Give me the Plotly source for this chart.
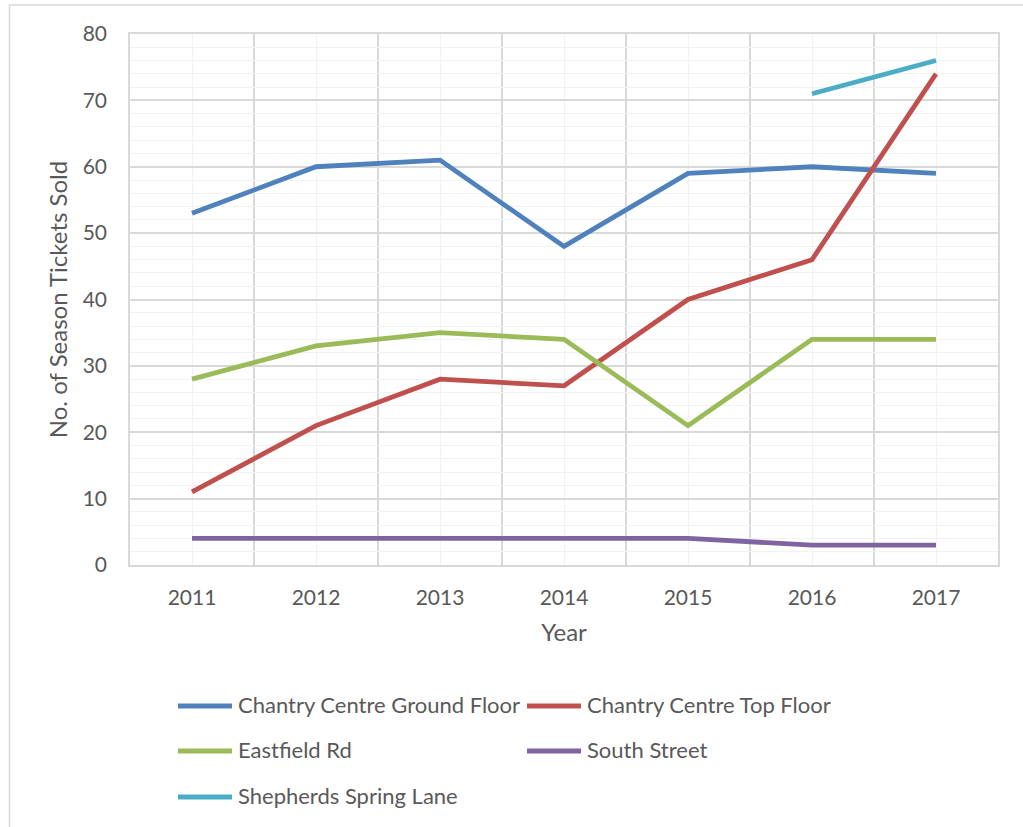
import plotly.graph_objects as go

# Season ticket sales per car park, by year
years = ["2011", "2012", "2013", "2014", "2015", "2016", "2017"]
ground_floor = [53, 60, 61, 48, 59, 60, 59]
top_floor = [11, 21, 28, 27, 40, 46, 74]
eastfield_rd = [28, 33, 35, 34, 21, 34, 34]
south_street = [4, 4, 4, 4, 4, 3, 3]
shepherds_spring = [None, None, None, None, None, 71, 76]

series_names = ["Chantry Centre Ground Floor", "Chantry Centre Top Floor",
                "Eastfield Rd", "South Street", "Shepherds Spring Lane"]
series_values = [ground_floor, top_floor, eastfield_rd, south_street, shepherds_spring]
series_colors = ["#4F81BD", "#C0504D", "#9BBB59", "#8064A2", "#4BACC6"]

FONT = "Lato"
TEXT = "#595959"
GRID = "#D9D9D9"
GRID_LIGHT = "#F2F2F2"

W, H = 1023, 827
ML, MR, MT, MB = 130, 25, 34, 262
PW = W - ML - MR
PH = H - MT - MB


def py(pix):
    # pixel row -> paper y
    return (H - MB - pix) / PH


def px(pix):
    # pixel column -> paper x
    return (pix - ML) / PW


fig = go.Figure()
xpos = list(range(len(years)))
for name, vals, color in zip(series_names, series_values, series_colors):
    fig.add_trace(go.Scatter(
        x=xpos, y=vals, name=name, mode="lines",
        line=dict(color=color, width=4.8),
        connectgaps=False, showlegend=False,
    ))

# Two-column legend below the plot: a line sample followed by the series name
shapes = [dict(
    type="rect", xref="paper", yref="paper",
    x0=px(9.5), x1=px(W + 10), y0=py(H + 10), y1=py(5),
    line=dict(color=GRID, width=1.5), fillcolor="rgba(0,0,0,0)", layer="below",
)]
annotations = []
col_x = [178, 527]
row_y = [706, 751, 797]
for i, (name, color) in enumerate(zip(series_names, series_colors)):
    x0 = col_x[i % 2]
    y0 = row_y[i // 2]
    shapes.append(dict(
        type="line", xref="paper", yref="paper",
        x0=px(x0), x1=px(x0 + 54), y0=py(y0), y1=py(y0),
        line=dict(color=color, width=4.8),
    ))
    annotations.append(dict(
        xref="paper", yref="paper", x=px(x0 + 58), y=py(y0 - 1.5),
        xanchor="left", yanchor="middle", showarrow=False,
        text=name, font=dict(family=FONT, size=22, color=TEXT),
    ))

fig.update_layout(
    width=W, height=H,
    margin=dict(l=ML, r=MR, t=MT, b=MB, autoexpand=False),
    paper_bgcolor="white", plot_bgcolor="white",
    font=dict(family=FONT, color=TEXT, size=21),
    showlegend=False,
    xaxis=dict(
        range=[-0.5, len(years) - 0.5],
        tickvals=xpos, ticktext=years,
        showgrid=True, gridcolor=GRID_LIGHT, gridwidth=1,
        minor=dict(tickvals=[i + 0.5 for i in range(-1, len(years))],
                   showgrid=True, gridcolor=GRID, gridwidth=1.5),
        showline=True, linecolor=GRID, linewidth=1.5, mirror=True,
        zeroline=False, ticks="", ticklabelstandoff=13,
        tickfont=dict(family=FONT, size=21, color=TEXT),
        title=dict(text="Year", font=dict(family=FONT, size=24, color=TEXT), standoff=16),
        automargin=False, fixedrange=True,
    ),
    yaxis=dict(
        range=[0, 80], dtick=10, tick0=0,
        showgrid=True, gridcolor=GRID, gridwidth=1.5,
        minor=dict(dtick=2, showgrid=True, gridcolor=GRID_LIGHT, gridwidth=1),
        showline=True, linecolor=GRID, linewidth=1.5, mirror=True,
        zeroline=False, ticks="", ticklabelstandoff=17,
        tickfont=dict(family=FONT, size=21, color=TEXT),
        title=dict(text="No. of Season Tickets Sold", font=dict(family=FONT, size=24, color=TEXT), standoff=8),
        automargin=False, fixedrange=True,
    ),
    shapes=shapes,
    annotations=annotations,
)

fig.write_html("out.html")
